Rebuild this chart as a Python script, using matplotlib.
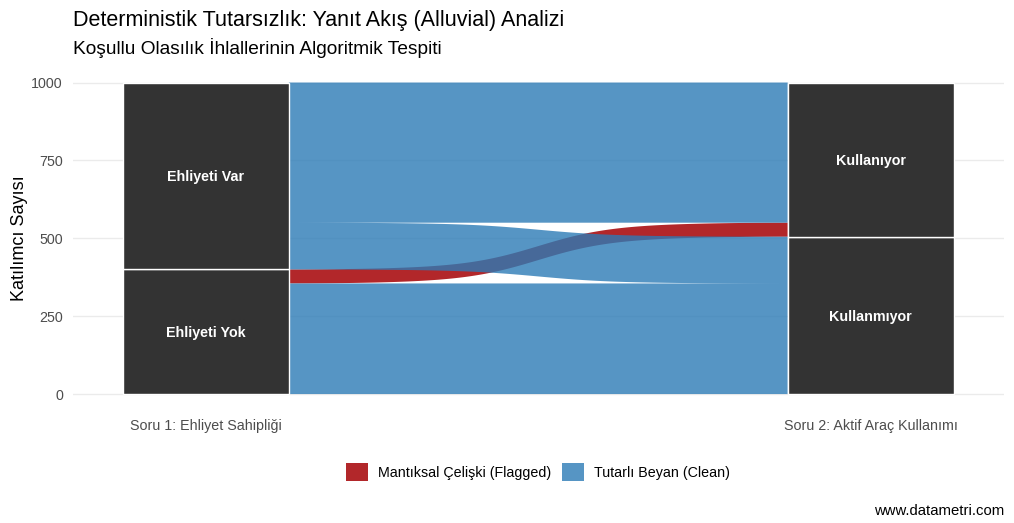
import numpy as np
import matplotlib.pyplot as plt
from matplotlib.patches import Rectangle, Patch, PathPatch
from matplotlib.path import Path

plt.rcParams['font.family'] = ['Liberation Sans', 'DejaVu Sans']

# veriler (alttan üste sıralı)
soru1_kategoriler = ["Ehliyeti Yok", "Ehliyeti Var"]
soru2_kategoriler = ["Kullanmıyor", "Kullanıyor"]
eksen_etiketleri = ["Soru 1: Ehliyet Sahipliği", "Soru 2: Aktif Araç Kullanımı"]

akis_kaynak = ["Ehliyeti Yok", "Ehliyeti Yok", "Ehliyeti Var", "Ehliyeti Var"]
akis_hedef = ["Kullanmıyor", "Kullanıyor", "Kullanmıyor", "Kullanıyor"]
akis_sayi = [355, 45, 150, 450]
akis_celiski = [False, True, False, False]

renk_celiski = "#B2272A"
renk_temiz = "#2C7BB6"
renk_katman = "#333333"

genislik = 0.25  # katman genişliği


def katman_konumlari(kategoriler, anahtar):
    # her katmanın alt sınırı ve toplamı
    alt, toplam = {}, {}
    y = 0
    for k in kategoriler:
        n = sum(s for a, s in zip(anahtar, akis_sayi) if a == k)
        alt[k] = y
        toplam[k] = n
        y += n
    return alt, toplam


sol_alt, sol_toplam = katman_konumlari(soru1_kategoriler, akis_kaynak)
sag_alt, sag_toplam = katman_konumlari(soru2_kategoriler, akis_hedef)

# akışların sol ve sağ uçtaki konumları
idx = range(len(akis_sayi))
sol_sira = sorted(idx, key=lambda i: (soru1_kategoriler.index(akis_kaynak[i]),
                                      soru2_kategoriler.index(akis_hedef[i])))
sag_sira = sorted(idx, key=lambda i: (soru2_kategoriler.index(akis_hedef[i]),
                                      soru1_kategoriler.index(akis_kaynak[i])))
sol_y = {}
y = 0
for i in sol_sira:
    sol_y[i] = y
    y += akis_sayi[i]
sag_y = {}
y = 0
for i in sag_sira:
    sag_y[i] = y
    y += akis_sayi[i]

fig = plt.figure(figsize=(10.14, 5.23), dpi=100)
ax = fig.add_axes([0.0717, 0.2168, 0.9183, 0.6552])

# akış eğrisi: sigmoid + yumuşak basamak (ggalluvial x-spline'a yakın)
x0, x1 = 1 + genislik / 2, 2 - genislik / 2
xs = np.linspace(x0, x1, 500)
t = (xs - x0) / (x1 - x0)
k = 14
sig = 1 / (1 + np.exp(-k * (t - 0.5)))
sig = (sig - sig[0]) / (sig[-1] - sig[0])
egri = 0.85 * sig + 0.15 * (3 * t ** 2 - 2 * t ** 3)


def akis_yolu(i):
    # akışın alt ve üst kenarından kapalı çokgen
    alt = sol_y[i] + (sag_y[i] - sol_y[i]) * egri
    ust = alt + akis_sayi[i]
    verts = np.concatenate([np.column_stack([xs, alt]),
                            np.column_stack([xs[::-1], ust[::-1]]),
                            [[xs[0], alt[0]]]])
    codes = [Path.MOVETO] + [Path.LINETO] * (len(verts) - 2) + [Path.CLOSEPOLY]
    return verts, codes


# her renk tek bir bileşik yol olarak çiziliyor (komşu akışlar arasında dikiş olmasın)
for celiski, renk, alfa, z in [(True, renk_celiski, 1.0, 2), (False, renk_temiz, 0.8, 3)]:
    tum_v, tum_c = [], []
    for i in idx:
        if akis_celiski[i] == celiski:
            v, c = akis_yolu(i)
            tum_v.append(v)
            tum_c += c
    yol = Path(np.concatenate(tum_v), tum_c)
    ax.add_patch(PathPatch(yol, facecolor=renk, alpha=alfa, linewidth=0, zorder=z))

# katmanlar
for xc, kategoriler, alt_d, top_d in [(1, soru1_kategoriler, sol_alt, sol_toplam),
                                      (2, soru2_kategoriler, sag_alt, sag_toplam)]:
    for kat in kategoriler:
        ax.add_patch(Rectangle((xc - genislik / 2, alt_d[kat]), genislik, top_d[kat],
                               facecolor=renk_katman, edgecolor="white", linewidth=1, zorder=4))
        ax.text(xc, alt_d[kat] + top_d[kat] / 2, kat, color="white", fontsize=10.3,
                fontweight="bold", ha="center", va="center_baseline", zorder=5)

ax.set_xlim(0.8, 2.2)
ax.set_ylim(-50, 1050)
ax.set_yticks([0, 250, 500, 750, 1000])
ax.set_xticks([1, 2])
ax.set_xticklabels(eksen_etiketleri)
ax.grid(axis="y", color="#EBEBEB", linewidth=1)
ax.set_axisbelow(True)
for s in ax.spines.values():
    s.set_visible(False)
ax.tick_params(length=0, labelsize=10.3, labelcolor="#4D4D4D")
ax.tick_params(axis="y", pad=7)
ax.tick_params(axis="x", pad=7)
ax.set_ylabel("Katılımcı Sayısı", fontsize=13)
ax.yaxis.set_label_coords(-0.048, 0.5)

fig.text(73 / 1014, 1 - 26 / 523, "Deterministik Tutarsızlık: Yanıt Akış (Alluvial) Analizi",
         fontsize=15.5, ha="left", va="baseline")
fig.text(73 / 1014, 1 - 54 / 523, "Koşullu Olasılık İhlallerinin Algoritmik Tespiti",
         fontsize=13.8, ha="left", va="baseline")
fig.text(1004 / 1014, 1 - 515 / 523, "www.datametri.com", fontsize=10.7, ha="right", va="baseline")

lejant = [Patch(facecolor=renk_celiski, label="Mantıksal Çelişki (Flagged)"),
          Patch(facecolor=renk_temiz, alpha=0.8, label="Tutarlı Beyan (Clean)")]
fig.legend(handles=lejant, loc="center", bbox_to_anchor=(538 / 1014, 1 - 472 / 523), ncol=2,
           frameon=False, fontsize=10.3, handlelength=1.55, handleheight=1.5,
           handletextpad=0.7, columnspacing=0.7)

fig.savefig("out.png", dpi=100)
